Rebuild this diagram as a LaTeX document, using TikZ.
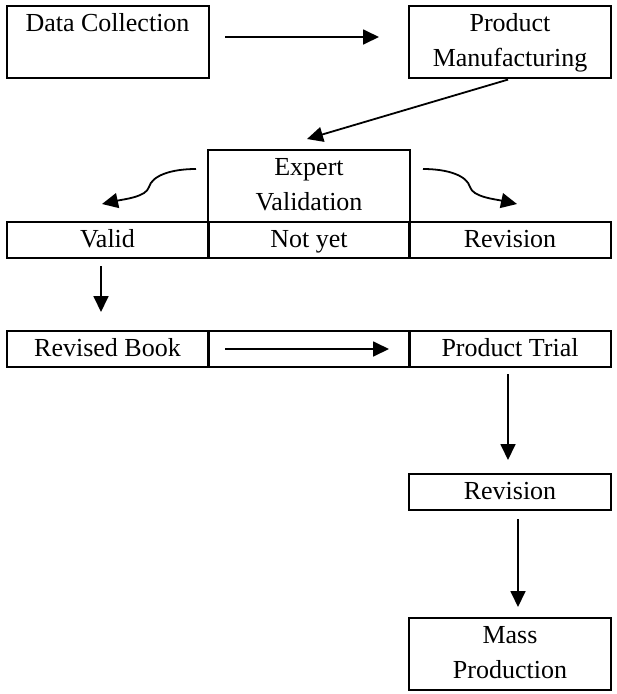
\documentclass[tikz,border=0pt]{standalone}
\usepackage{fontspec}
\setmainfont{Liberation Serif}
\usetikzlibrary{calc, arrows.meta, positioning}

\begin{document}
\begin{tikzpicture}[
    x=1pt, y=-1pt,
    box node/.style={draw, line width=2pt, minimum width=202pt, minimum height=72pt, inner sep=0pt, align=center, font=\fontsize{26}{35}\selectfont},
    cell node/.style={box node, minimum height=36pt, text height=20pt, text depth=6pt},
    arrow/.style={-{Triangle[length=16pt, width=15pt]}, line width=1.8pt}
]
\useasboundingbox (0,0) rectangle (617,694);

% Top Nodes
\node[box node] (data) at (107.5,42) {Data Collection\strut\\\strut};
\node[box node] (manuf) at (510,42) {Product\strut\\Manufacturing\strut};

% Validation
\node[box node] (expert) at (309,186) {Expert\strut\\Validation\strut};
\node[cell node] (valid) at (107.5,240) {Valid};
\node[cell node] (notyet) at (309,240) {Not yet};
\node[cell node] (revone) at (510,240) {Revision};

% Trial row
\node[cell node] (book) at (107.5,349) {Revised Book};
\node[cell node] (gap) at (309,349) {};
\node[cell node] (trial) at (510,349) {Product Trial};

% Lower Nodes
\node[cell node] (revtwo) at (510,492) {Revision};
\node[box node] (mass) at (510,654) {Mass\strut\\Production\strut};

% Straight arrows
\draw[arrow, shorten <=15.5pt, shorten >=29pt] ([yshift=5pt]data.east) -- ([yshift=5pt]manuf.west);
\draw[arrow, shorten <=2pt] (manuf.south) -- ($(expert.north)+(-2,-10)$);
\draw[arrow, shorten <=7pt, shorten >=18pt] ([xshift=-6.5pt]valid.south) -- ([xshift=-6.5pt]book.north);
\draw[arrow, shorten <=15.5pt, shorten >=19pt] (book.east) -- (trial.west);
\draw[arrow, shorten <=6pt, shorten >=13pt] ([xshift=-2pt]trial.south) -- ([xshift=-2pt]revtwo.north);
\draw[arrow, shorten <=8pt, shorten >=10pt] ([xshift=8pt]revtwo.south) -- ([xshift=8pt]mass.north);

% Curved arrows
\coordinate (lfrom) at (196,169);
\coordinate (lto) at (102,204);
\coordinate (rfrom) at (423,169);
\coordinate (rto) at (517,204);
\draw[arrow] (lfrom) .. controls (170,169) and (152,176) .. (149,187) .. controls (146,197) and (125,199) .. (lto);
\draw[arrow] (rfrom) .. controls (449,169) and (467,176) .. (470,187) .. controls (473,197) and (494,199) .. (rto);
\end{tikzpicture}
\end{document}
